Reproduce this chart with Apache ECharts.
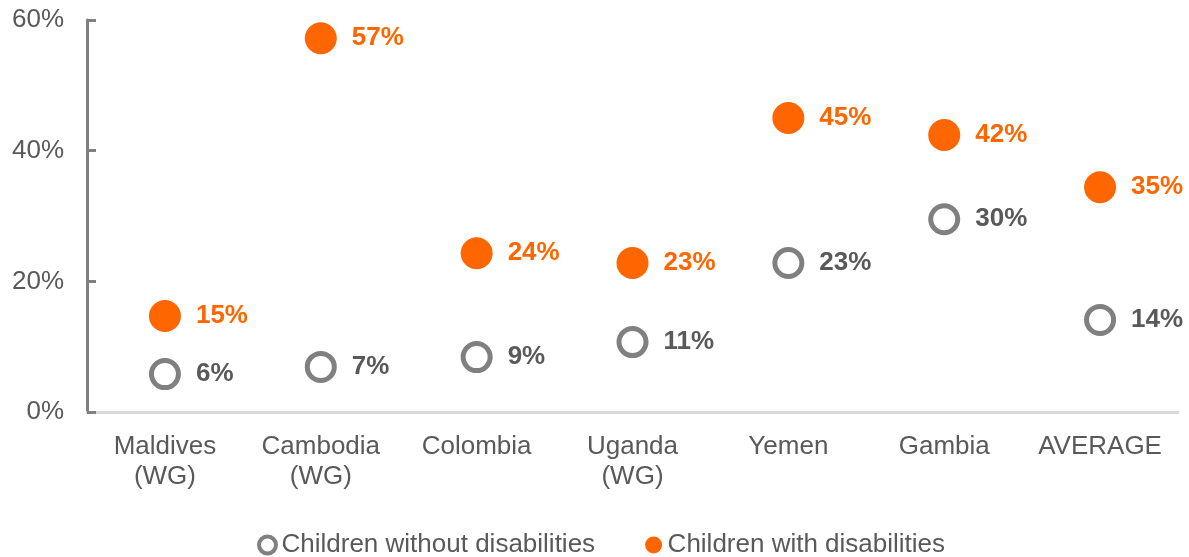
<!DOCTYPE html>
<html><head><meta charset="utf-8">
<script src="https://cdn.jsdelivr.net/npm/echarts@6/dist/echarts.min.js"></script>
<style>html,body{margin:0;padding:0;background:#fff}#c{width:1189px;height:557px}</style>
</head><body><div id="c"></div>
<script>
var categories = ['Maldives\n(WG)', 'Cambodia\n(WG)', 'Colombia', 'Uganda\n(WG)', 'Yemen', 'Gambia', 'AVERAGE'];
var withoutDis = [5.8, 6.9, 8.4, 10.7, 22.8, 29.5, 14.1];
var withDis = [14.7, 57.2, 24.3, 22.8, 45.0, 42.4, 34.4];
var withoutLabels = ['6%', '7%', '9%', '11%', '23%', '30%', '14%'];
var withLabels = ['15%', '57%', '24%', '23%', '45%', '42%', '35%'];
var yTicks = [0, 20, 40, 60];

var chart = echarts.init(document.getElementById('c'), null, {renderer: 'canvas'});
var font = 'Liberation Sans, Arial, sans-serif';
chart.setOption({
  animation: false,
  grid: {left: 87, right: 11, top: 20, bottom: 145, containLabel: false},
  legend: {
    top: 527, left: 252, itemGap: 50, itemWidth: 18, itemHeight: 17,
    textStyle: {fontFamily: font, fontSize: 26, color: '#595959'},
    data: [
      {name: 'Children without disabilities', icon: 'circle', itemStyle: {color: '#fff', borderColor: '#808080', borderWidth: 4}},
      {name: 'Children with disabilities', icon: 'circle', itemStyle: {color: '#ff6600'}}
    ]
  },
  xAxis: {
    type: 'category', data: categories,
    axisLine: {show: true, lineStyle: {color: '#d9d9d9', width: 3}},
    axisTick: {show: false},
    axisLabel: {fontFamily: font, fontSize: 26, color: '#595959', margin: 20, lineHeight: 30, interval: 0}
  },
  yAxis: {
    type: 'value', min: 0, max: 60, interval: 20,
    axisLine: {show: true, lineStyle: {color: '#808080', width: 3}},
    axisTick: {show: true, inside: true, length: 9, lineStyle: {color: '#808080', width: 3}},
    splitLine: {show: false},
    axisLabel: {fontFamily: font, fontSize: 26, color: '#595959', margin: 23,
      formatter: function (v) { return yTicks.indexOf(v) >= 0 ? v + '%' : ''; }}
  },
  series: [
    {
      name: 'Children without disabilities', type: 'scatter', data: withoutDis,
      symbol: 'circle', symbolSize: 27,
      itemStyle: {color: '#fff', borderColor: '#808080', borderWidth: 5, opacity: 1},
      label: {show: true, position: 'right', distance: 15, fontFamily: font, fontWeight: 'bold', fontSize: 26, color: '#595959',
        formatter: function (p) { return withoutLabels[p.dataIndex]; }}
    },
    {
      name: 'Children with disabilities', type: 'scatter', data: withDis,
      symbol: 'circle', symbolSize: 32,
      itemStyle: {color: '#ff6600', opacity: 1},
      label: {show: true, position: 'right', distance: 15, fontFamily: font, fontWeight: 'bold', fontSize: 26, color: '#ff6600',
        formatter: function (p) { return withLabels[p.dataIndex]; }}
    }
  ]
});
</script></body></html>
